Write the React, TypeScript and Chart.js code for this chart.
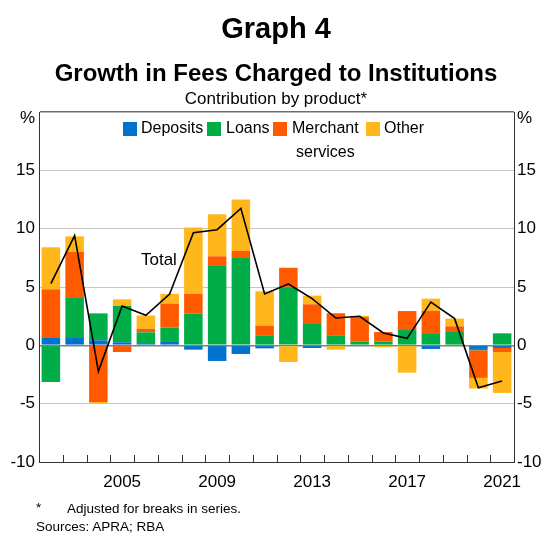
import React, { useEffect, useRef } from 'react';
import { Chart, registerables } from 'chart.js';

Chart.register(...registerables);

const FONT = '"Liberation Sans", Arial, Helvetica, sans-serif';

const years = ['2002', '2003', '2004', '2005', '2006', '2007', '2008', '2009', '2010', '2011',
  '2012', '2013', '2014', '2015', '2016', '2017', '2018', '2019', '2020', '2021'];

const deposits = [0.63, 0.63, 0.43, 0.26, 0.11, 0.29, -0.37, -1.34, -0.74, -0.26,
  0.0, -0.23, 0.0, 0.0, 0.0, 0.0, -0.31, 0.0, -0.31, -0.23];
const loans = [-3.14, 3.43, 2.31, 3.11, 1.0, 1.23, 2.71, 6.86, 7.54, 0.86,
  4.91, 1.83, 0.86, 0.31, 0.31, 1.31, 0.97, 1.14, -0.11, 1.03];
const merchant = [4.17, 3.97, -4.86, -0.57, 0.31, 2.06, 1.69, 0.77, 0.55, 0.83,
  1.74, 1.69, 1.89, 2.11, 0.83, 1.63, 1.97, 0.49, -2.37, -0.34];
const other = [3.6, 1.31, -0.14, 0.57, 1.14, 0.83, 5.69, 3.6, 4.4, 2.94,
  -1.43, 0.74, -0.37, 0.11, -0.17, -2.34, 1.06, 0.66, -0.91, -3.51];
const total = [5.29, 9.4, -2.23, 3.37, 2.57, 4.4, 9.66, 9.91, 11.74, 4.4,
  5.26, 4.0, 2.34, 2.49, 1.06, 0.6, 3.71, 2.29, -3.63, -3.06];

const xTickYears = ['2005', '2009', '2013', '2017', '2021'];
const yMin = -10;
const yMax = 20;
const yStep = 5;

const COLORS = {
  deposits: '#0072CE',
  loans: '#00AD46',
  merchant: '#FF5A00',
  other: '#FFB71B',
};

// anchor of the "Total" annotation (category index, value)
const totalLabelAt = { x: 4.55, y: 7.3 };

const overlayPlugin = {
  id: 'overlay',
  afterDraw(chart: any) {
    const { ctx, chartArea, scales } = chart;
    const xs = scales.x;
    const ys = scales.y;
    ctx.save();
    // inner tick marks at category boundaries
    ctx.strokeStyle = '#333';
    ctx.lineWidth = 1;
    for (let i = 1; i < years.length; i++) {
      const px = Math.round((xs.getPixelForValue(i - 1) + xs.getPixelForValue(i)) / 2) + 0.5;
      ctx.beginPath();
      ctx.moveTo(px, chartArea.bottom);
      ctx.lineTo(px, chartArea.bottom - 7);
      ctx.stroke();
    }
    // legend
    ctx.font = `16px ${FONT}`;
    ctx.textBaseline = 'middle';
    ctx.fillStyle = '#000';
    const items = [
      { c: COLORS.deposits, sx: 123, tx: 141, t: ['Deposits'] },
      { c: COLORS.loans, sx: 207, tx: 226, t: ['Loans'] },
      { c: COLORS.merchant, sx: 273, tx: 292, t: ['Merchant', 'services'] },
      { c: COLORS.other, sx: 366, tx: 384, t: ['Other'] },
    ];
    const ly = 129;
    for (const it of items) {
      ctx.fillStyle = it.c;
      ctx.fillRect(it.sx, ly - 7, 14, 14);
      ctx.fillStyle = '#000';
      if (it.t.length === 1) {
        ctx.textAlign = 'left';
        ctx.fillText(it.t[0], it.tx, ly);
      } else {
        const w = ctx.measureText(it.t[0]).width;
        ctx.textAlign = 'center';
        ctx.fillText(it.t[0], it.tx + w / 2, ly);
        ctx.fillText(it.t[1], it.tx + w / 2, ly + 24);
      }
    }
    // Total label
    ctx.font = `17px ${FONT}`;
    ctx.textAlign = 'center';
    ctx.fillText('Total', xs.getPixelForValue(totalLabelAt.x), ys.getPixelForValue(totalLabelAt.y));
    ctx.restore();
  },
};

export default function App() {
  const ref = useRef<HTMLCanvasElement>(null);

  useEffect(() => {
    const canvas = ref.current;
    if (!canvas) return;
    Chart.defaults.font.family = FONT;
    Chart.defaults.color = '#000';
    const yTick = (v: any) => (v === yMax ? ['', '%'] : String(v));
    const chart = new Chart(canvas, {
      type: 'bar',
      data: {
        labels: years,
        datasets: [
          { type: 'line', label: 'Total', data: total, borderColor: '#000', borderWidth: 1.6, pointRadius: 0, fill: false, tension: 0, stack: 'line', order: 0 } as any,
          { label: 'Deposits', data: deposits, backgroundColor: COLORS.deposits, order: 1 },
          { label: 'Loans', data: loans, backgroundColor: COLORS.loans, order: 1 },
          { label: 'Merchant services', data: merchant, backgroundColor: COLORS.merchant, order: 1 },
          { label: 'Other', data: other, backgroundColor: COLORS.other, order: 1 },
        ],
      },
      options: {
        responsive: false,
        animation: false,
        devicePixelRatio: 1,
        layout: { padding: { top: 112, left: 0, right: 0, bottom: 0 } },
        datasets: { bar: { barPercentage: 0.78, categoryPercentage: 1, borderWidth: 0 } },
        plugins: { legend: { display: false }, tooltip: { enabled: false }, title: { display: false } },
        scales: {
          x: {
            stacked: true,
            grid: { display: false, drawTicks: false },
            border: { display: true, color: '#333', width: 1 },
            ticks: {
              autoSkip: false,
              maxRotation: 0,
              padding: 10,
              font: { size: 17 },
              callback: function (this: any, v: any) {
                const lab = years[v];
                return xTickYears.includes(lab) ? lab : '';
              },
            },
            afterFit: (s: any) => { s.height = 73; },
          },
          y: {
            stacked: true,
            min: yMin,
            max: yMax,
            position: 'left',
            ticks: { stepSize: yStep, padding: 4, font: { size: 17, lineHeight: '12px' }, callback: yTick },
            grid: {
              drawTicks: false,
              color: (c: any) => (c.tick && c.tick.value === 0 ? '#808080' : c.tick && c.tick.value === yMax ? '#6e6e6e' : '#c4c4c4'),
              lineWidth: (c: any) => (c.tick && (c.tick.value === 0 || c.tick.value === yMax) ? 1.5 : 1),
            },
            border: { display: true, color: '#333', width: 1 },
            afterFit: (s: any) => { s.width = 39; },
          },
          y2: {
            min: yMin,
            max: yMax,
            position: 'right',
            ticks: { stepSize: yStep, padding: 3, font: { size: 17, lineHeight: '12px' }, callback: yTick },
            grid: { display: false, drawTicks: false },
            border: { display: true, color: '#333', width: 1 },
            afterFit: (s: any) => { s.width = 30; },
          },
        },
      },
      plugins: [overlayPlugin],
    } as any);
    return () => chart.destroy();
  }, []);

  const center = { position: 'absolute' as const, left: 8, width: 536, textAlign: 'center' as const, whiteSpace: 'nowrap' as const };

  return (
    <div style={{ position: 'absolute', left: 0, top: 0, width: 544, height: 535, fontFamily: FONT, color: '#000', background: '#fff' }}>
      <canvas ref={ref} width={544} height={535} style={{ position: 'absolute', left: 0, top: 0, width: 544, height: 535 }} />
      <div style={{ ...center, top: 14, fontSize: 29, lineHeight: '29px', fontWeight: 'bold' }}>Graph 4</div>
      <div style={{ ...center, top: 61.4, fontSize: 24, lineHeight: '24px', fontWeight: 'bold' }}>Growth in Fees Charged to Institutions</div>
      <div style={{ ...center, top: 89.5, fontSize: 17, lineHeight: '17px' }}>Contribution by product*</div>
      <div style={{ position: 'absolute', left: 36, top: 501, fontSize: 13.5, lineHeight: '13.5px', whiteSpace: 'nowrap' }}>*</div>
      <div style={{ position: 'absolute', left: 67, top: 501.6, fontSize: 13.5, lineHeight: '13.5px', whiteSpace: 'nowrap' }}>Adjusted for breaks in series.</div>
      <div style={{ position: 'absolute', left: 36, top: 520, fontSize: 13.5, lineHeight: '13.5px', whiteSpace: 'nowrap' }}>Sources: APRA; RBA</div>
    </div>
  );
}
